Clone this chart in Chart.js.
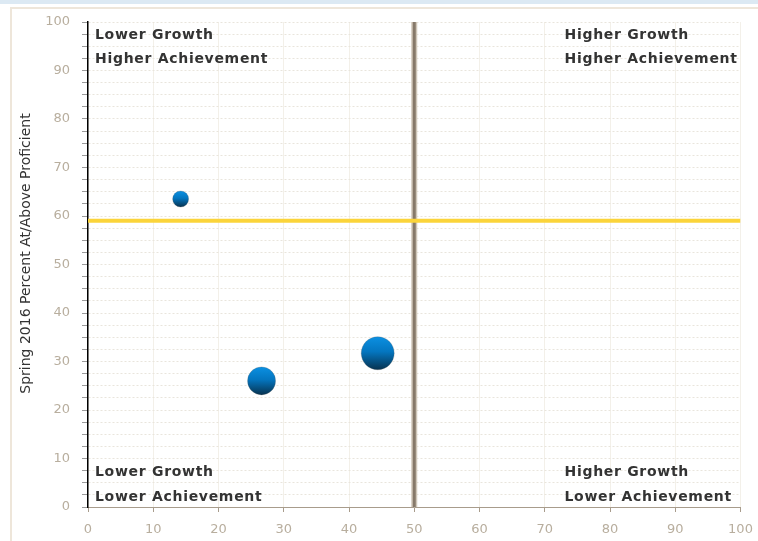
<!DOCTYPE html>
<html>
<head>
<meta charset="utf-8">
<script src="https://cdn.jsdelivr.net/npm/chart.js@4/dist/chart.umd.min.js"></script>
<style>
  html, body { margin: 0; padding: 0; background: #fff; }
  #wrap { position: relative; width: 758px; height: 541px; overflow: hidden; }
  #band { position: absolute; left: 0; top: 0; width: 758px; height: 4px; background: #dce9f3; }
  #frame { position: absolute; left: 10px; top: 7px; width: 760px; height: 560px;
           border-left: 2px solid #eee6da; border-top: 2px solid #eee6da; }
  canvas { position: absolute; left: 0; top: 0; }
</style>
</head>
<body>
<div id="wrap">
  <div id="band"></div>
  <div id="frame"></div>
  <canvas id="chart" width="758" height="541"></canvas>
</div>
<script>
// data
const growthX = [14.2, 26.6, 44.4];
const achieveY = [63.5, 26.0, 31.7];
const bubbleR = [8, 14, 16.5];
const growthCut = 50;
const achieveCut = 59;
const quadrantLabels = {
  tl: ['Lower Growth', 'Higher Achievement'],
  tr: ['Higher Growth', 'Higher Achievement'],
  bl: ['Lower Growth', 'Lower Achievement'],
  br: ['Higher Growth', 'Lower Achievement']
};
const yTitle = 'Spring 2016 Percent At/Above Proficient';

const bubbles = growthX.map((x, i) => ({ x: x, y: achieveY[i], r: bubbleR[i] }));

function bubbleFill(c) {
  const chart = c.chart;
  if (!chart.chartArea || !c.raw) return '#0a7fc8';
  const y = chart.scales.y.getPixelForValue(c.raw.y);
  const r = c.raw.r;
  const g = chart.ctx.createLinearGradient(0, y - r, 0, y + r);
  g.addColorStop(0, '#0b90e2');
  g.addColorStop(0.45, '#0476c0');
  g.addColorStop(1, '#07324f');
  return g;
}

// quadrant captions + the y title (sits a bit above the axis middle)
const quadrantPlugin = {
  id: 'quadrants',
  afterDatasetsDraw(chart) {
    const { ctx, chartArea: a } = chart;
    ctx.save();
    ctx.font = 'bold 14px "DejaVu Sans"';
    ctx.letterSpacing = '0.7px';
    ctx.fillStyle = '#333333';
    ctx.textAlign = 'left';
    ctx.textBaseline = 'alphabetic';
    const lx = a.left + 7;
    const rx = a.right - 176;
    ctx.fillText(quadrantLabels.tl[0], lx, a.top + 17);
    ctx.fillText(quadrantLabels.tl[1], lx, a.top + 41);
    ctx.fillText(quadrantLabels.tr[0], rx, a.top + 17);
    ctx.fillText(quadrantLabels.tr[1], rx, a.top + 41);
    ctx.fillText(quadrantLabels.bl[0], lx, a.bottom - 31);
    ctx.fillText(quadrantLabels.bl[1], lx, a.bottom - 6);
    ctx.fillText(quadrantLabels.br[0], rx, a.bottom - 31);
    ctx.fillText(quadrantLabels.br[1], rx, a.bottom - 6);
    ctx.restore();

    ctx.save();
    ctx.translate(a.left - 62, (a.top + a.bottom) / 2 - 11);
    ctx.rotate(-Math.PI / 2);
    ctx.font = '14px "DejaVu Sans"';
    ctx.fillStyle = '#333333';
    ctx.textAlign = 'center';
    ctx.textBaseline = 'middle';
    ctx.fillText(yTitle, 0, 0);
    ctx.restore();
  }
};

new Chart(document.getElementById('chart'), {
  type: 'bubble',
  data: {
    datasets: [
      {
        type: 'line',
        data: [{ x: growthCut, y: 0 }, { x: growthCut, y: 100 }],
        borderColor: '#cfc6b9',
        borderWidth: 6,
        pointRadius: 0,
        order: 3
      },
      {
        type: 'line',
        data: [{ x: growthCut, y: 0 }, { x: growthCut, y: 100 }],
        borderColor: '#86796a',
        borderWidth: 3,
        pointRadius: 0,
        order: 2
      },
      {
        type: 'line',
        data: [{ x: 0, y: achieveCut }, { x: 100, y: achieveCut }],
        borderColor: '#fbd43a',
        borderWidth: 4,
        pointRadius: 0,
        order: 1
      },
      {
        data: bubbles,
        backgroundColor: bubbleFill,
        borderColor: 'rgba(90, 90, 90, 0.25)',
        borderWidth: 1,
        order: 0
      }
    ]
  },
  options: {
    responsive: false,
    animation: false,
    events: [],
    layout: { padding: { left: 10, top: 22, right: 14, bottom: 0 } },
    plugins: { legend: { display: false }, tooltip: { enabled: false } },
    scales: {
      x: {
        type: 'linear',
        min: 0, max: 100,
        afterFit(s) { s.height = 34; s.paddingLeft = 0; s.paddingRight = 0; },
        ticks: {
          stepSize: 10,
          padding: 10,
          color: '#b8ae9e',
          font: { family: 'DejaVu Sans', size: 13 }
        },
        grid: {
          color: '#f3f0e9',
          tickColor: '#a89c8c',
          tickLength: 5
        },
        border: { color: '#a89c8c', width: 1 }
      },
      y: {
        min: 0, max: 100,
        afterFit(s) { s.width = 78; s.paddingTop = 0; s.paddingBottom = 0; },
        ticks: {
          stepSize: 2.5,
          autoSkip: false,
          padding: 12,
          color: '#b8ae9e',
          font: { family: 'DejaVu Sans', size: 13 },
          callback: v => (v % 10 === 0 ? v : '')
        },
        grid: {
          color: '#e9e5dc',
          tickColor: '#9a9a9a',
          tickLength: 6
        },
        border: { color: '#000000', width: 1.5, dash: [2, 2] }
      }
    }
  },
  plugins: [quadrantPlugin]
});
</script>
</body>
</html>
